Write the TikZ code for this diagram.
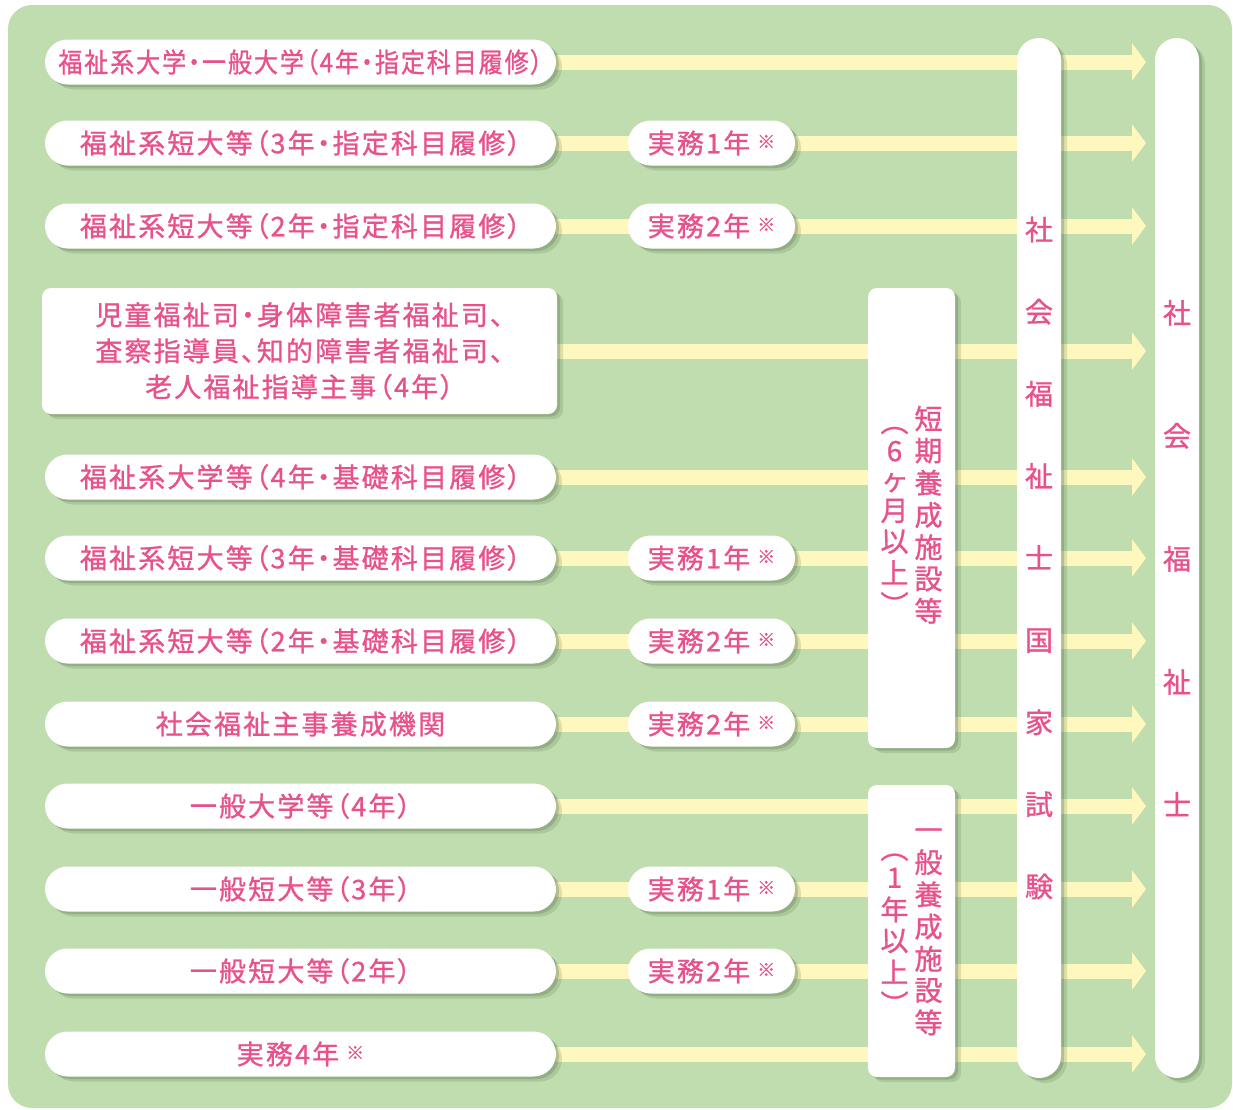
\documentclass[tikz,border=0pt]{standalone}
\usepackage{fontspec}
\usepackage{graphicx}
\setmainfont{Noto Sans CJK JP}[RawFeature=+palt,LetterSpace=8,FakeBold=1]
\usetikzlibrary{arrows.meta,shadows}
\definecolor{bggreen}{RGB}{191,221,174}
\definecolor{bandyellow}{RGB}{255,248,190}
\definecolor{pinktext}{RGB}{232,82,140}
\definecolor{shadowgreen}{RGB}{90,120,78}
\pgfdeclarelayer{back}
\pgfdeclarelayer{mid}
\pgfsetlayers{back,mid,main}
\newcommand{\kome}{\hspace{7pt}{\fontsize{18pt}{18pt}\selectfont\raisebox{5pt}{※}}}
\newcommand{\vstack}[1]{\begin{tabular}{@{}c@{}}#1\end{tabular}}
\begin{document}
\begin{tikzpicture}[x=1pt,y=-1pt,
	every node/.style={text=pinktext,font=\fontsize{27pt}{36pt}\selectfont},
	panel/.style={fill=white,inner sep=0pt,
		drop shadow={shadow xshift=6pt,shadow yshift=-5pt,fill=shadowgreen,opacity=.2},
		drop shadow={shadow xshift=3pt,shadow yshift=-2.5pt,fill=shadowgreen,opacity=.3}},
	pill/.style={panel,rounded corners=22.5pt,minimum height=45pt},
	course/.style={pill,minimum width=511pt},
	work/.style={pill,minimum width=167pt},
	card/.style={panel,rounded corners=9pt},
	facility/.style={card,minimum width=87pt,font=\fontsize{28pt}{29pt}\selectfont},
	column/.style={panel,rounded corners=22pt,minimum width=44pt,minimum height=1040pt,align=center},
	flow/.style={line width=15pt,draw=bandyellow,-{Triangle[length=14pt,width=37pt]}}]
	\useasboundingbox (0,0) rectangle (1233,1109);
	\begin{pgfonlayer}{back}
		\fill[bggreen,rounded corners=24pt] (8,5) rectangle (1232,1108);
	\end{pgfonlayer}
	
	\node[course] (c1) at (300.5,62) {\scalebox{0.89}[1]{福祉系大学・一般大学（4年・指定科目履修）}};
	\node[course] (c2) at (300.5,143) {福祉系短大等（3年・指定科目履修）};
	\node[course] (c3) at (300.5,226) {福祉系短大等（2年・指定科目履修）};
	\node[card,minimum width=515pt,minimum height=126pt,align=center] (c4) at (299.5,351) {児童福祉司・身体障害者福祉司、\\査察指導員、知的障害者福祉司、\\老人福祉指導主事（4年）};
	\node[course] (c5) at (300.5,477) {福祉系大学等（4年・基礎科目履修）};
	\node[course] (c6) at (300.5,558) {福祉系短大等（3年・基礎科目履修）};
	\node[course] (c7) at (300.5,641) {福祉系短大等（2年・基礎科目履修）};
	\node[course] (c8) at (300.5,724) {社会福祉主事養成機関};
	\node[course] (c9) at (300.5,806) {一般大学等（4年）};
	\node[course] (c10) at (300.5,889) {一般短大等（3年）};
	\node[course] (c11) at (300.5,971) {一般短大等（2年）};
	\node[course] (c12) at (300.5,1054) {実務4年\kome};
	
	\node[work] (w2) at (711.5,143) {実務1年\kome};
	\node[work] (w3) at (711.5,226) {実務2年\kome};
	\node[work] (w6) at (711.5,558) {実務1年\kome};
	\node[work] (w7) at (711.5,641) {実務2年\kome};
	\node[work] (w8) at (711.5,724) {実務2年\kome};
	\node[work] (w10) at (711.5,889) {実務1年\kome};
	\node[work] (w11) at (711.5,971) {実務2年\kome};
	
	\node[facility,minimum height=460pt] (short) at (911.5,518) {\vstack{︵\\6\\ヶ\\月\\以\\上\\︶}\hspace{6pt}\vstack{短\\期\\養\\成\\施\\設\\等}};
	\node[facility,minimum height=292pt] (general) at (911.5,931) {\vstack{︵\\1\\年\\以\\上\\︶}\hspace{6pt}\vstack{一\\般\\養\\成\\施\\設\\等}};
	
	\node[column,font=\fontsize{28pt}{82.1pt}\selectfont] (exam) at (1039,558) {社\\会\\福\\祉\\士\\国\\家\\試\\験};
	\node[column,font=\fontsize{28pt}{123pt}\selectfont] (cert) at (1177,558) {社\\会\\福\\祉\\士};
	
	\coordinate (tip) at (1146,0);
	\begin{pgfonlayer}{mid}
		\draw[flow] (c1.east) -- (c1.east -| tip);
		\draw[flow] (c2.east) -- (c2.east -| tip);
		\draw[flow] (c3.east) -- (c3.east -| tip);
		\draw[flow] (c4.east) -- (c4.east -| tip);
		\draw[flow] (c5.east) -- (c5.east -| tip);
		\draw[flow] (c6.east) -- (c6.east -| tip);
		\draw[flow] (c7.east) -- (c7.east -| tip);
		\draw[flow] (c8.east) -- (c8.east -| tip);
		\draw[flow] (c9.east) -- (c9.east -| tip);
		\draw[flow] (c10.east) -- (c10.east -| tip);
		\draw[flow] (c11.east) -- (c11.east -| tip);
		\draw[flow] (c12.east) -- (c12.east -| tip);
	\end{pgfonlayer}
\end{tikzpicture}
\end{document}
